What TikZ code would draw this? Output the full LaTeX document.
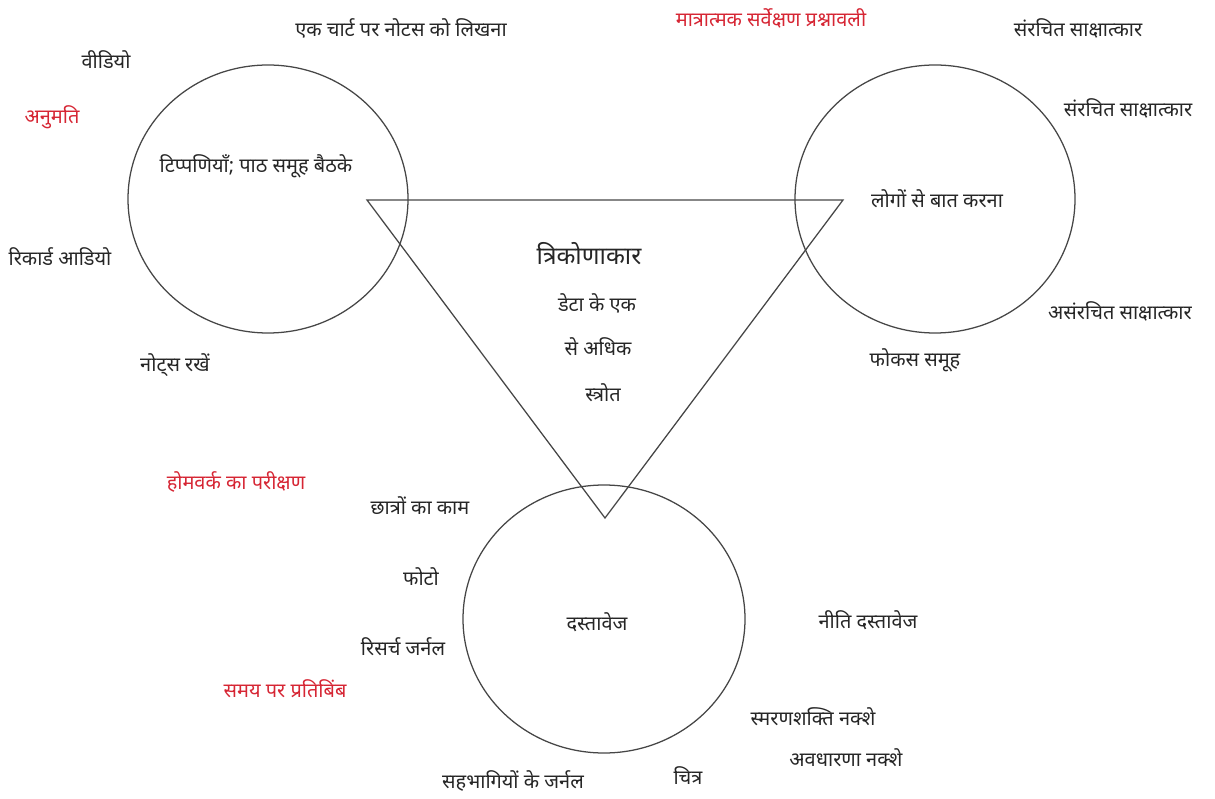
\documentclass[tikz,border=0pt]{standalone}
\usepackage{fontspec}
\newfontfamily\deva[Script=Devanagari]{Noto Sans}
\definecolor{redtxt}{RGB}{214,38,52}
\definecolor{linec}{RGB}{70,70,70}
\begin{document}
\begin{tikzpicture}[x=0.025cm,y=-0.025cm,
  lbl/.style={font=\deva\fontsize{14.2}{16}\selectfont, text=black!85, inner sep=0pt},
  rlbl/.style={lbl, text=redtxt},
  ring/.style={draw=linec, line width=0.9pt},
  tri/.style={draw=linec, line width=0.9pt}]
\useasboundingbox (0,0) rectangle (1215,799);
% circles
\draw[ring] (268,199) ellipse [x radius=140, y radius=134];
\draw[ring] (935,199) ellipse [x radius=140, y radius=134];
\draw[ring] (604,619) ellipse [x radius=141, y radius=134];
% triangle
\coordinate (t1) at (367,200);
\coordinate (t2) at (843,200);
\coordinate (t3) at (605,518);
\draw[tri] (t1) -- (t2) -- (t3) -- cycle;
% left cluster
\node[lbl] (a1) at (401,28) {एक चार्ट पर नोटस को लिखना};
\node[lbl] (a2) at (106,60) {वीडियो};
\node[rlbl] (a3) at (52,117) {अनुमति};
\node[lbl] (a4) at (256,166) {टिप्पणियाँ; पाठ समूह बैठके};
\node[lbl] (a5) at (60,257) {रिकार्ड आडियो};
\node[lbl] (a6) at (175,365) {नोट्स रखें};
% right cluster
\node[rlbl] (b1) at (771,18) {मात्रात्मक सर्वेक्षण प्रश्नावली};
\node[lbl] (b2) at (1078,28) {संरचित साक्षात्कार};
\node[lbl] (b3) at (1128,108) {संरचित साक्षात्कार};
\node[lbl] (b4) at (937,199) {लोगों से बात करना};
\node[lbl] (b5) at (1120,311) {असंरचित साक्षात्कार};
\node[lbl] (b6) at (915,360) {फोकस समूह};
% triangle text
\node[lbl, font=\deva\fontsize{17.5}{20}\selectfont] (c1) at (589,254) {त्रिकोणाकार};
\node[lbl] (c2) at (597,303) {डेटा के एक};
\node[lbl] (c3) at (598,347) {से अधिक};
\node[lbl] (c4) at (603,393) {स्त्रोत};
% bottom cluster
\node[rlbl] (d1) at (236,482) {होमवर्क का परीक्षण};
\node[lbl] (d2) at (420,506) {छात्रों का काम};
\node[lbl] (d3) at (421,577) {फोटो};
\node[lbl] (d4) at (403,647) {रिसर्च जर्नल};
\node[rlbl] (d5) at (285,689) {समय पर प्रतिबिंब};
\node[lbl] (d6) at (597,622) {दस्तावेज};
\node[lbl] (d7) at (868,620) {नीति दस्तावेज};
\node[lbl] (d8) at (813,717) {स्मरणशक्ति नक्शे};
\node[lbl] (d9) at (846,758) {अवधारणा नक्शे};
\node[lbl] (d10) at (513,781) {सहभागियों के जर्नल};
\node[lbl] (d11) at (688,776) {चित्र};
\end{tikzpicture}
\end{document}
